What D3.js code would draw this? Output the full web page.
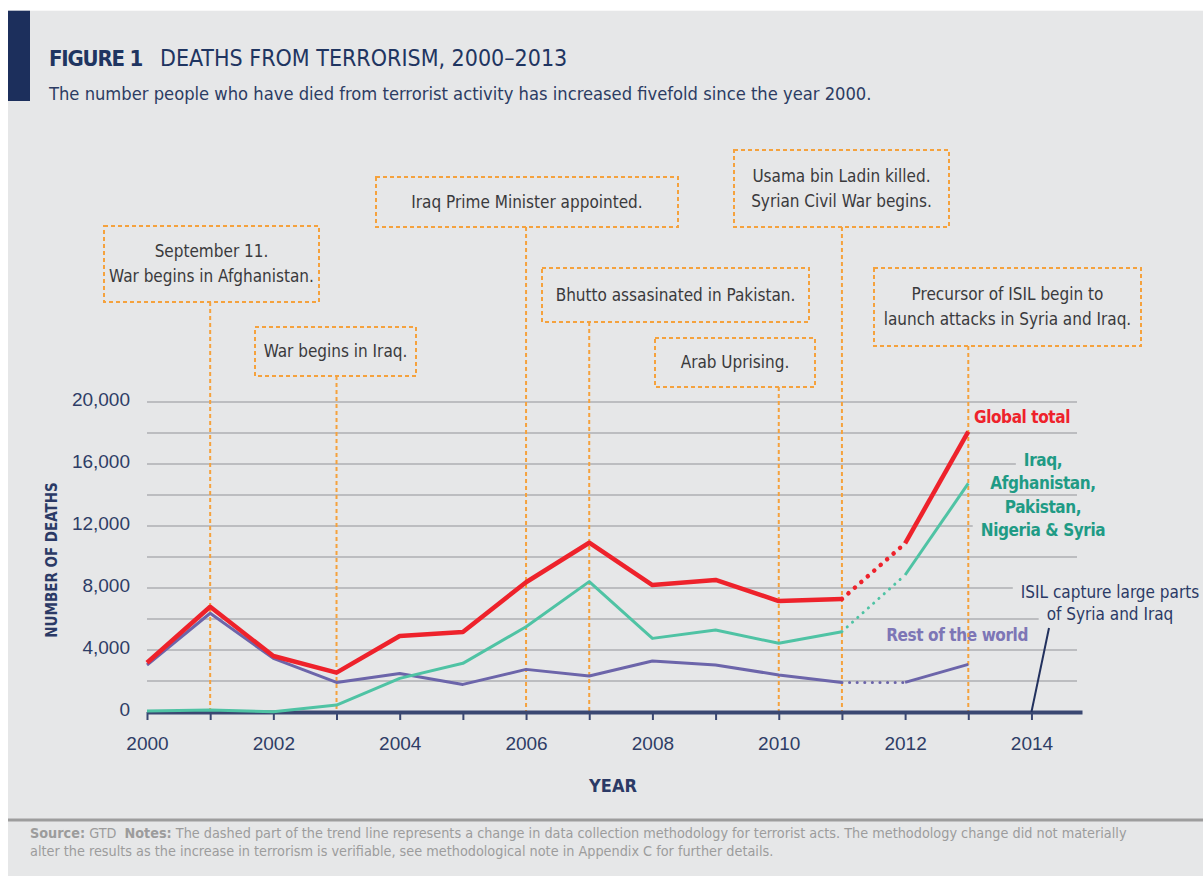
<!DOCTYPE html>
<html>
<head>
<meta charset="utf-8">
<script src="https://cdn.jsdelivr.net/npm/d3@7"></script>
<style>
body { margin: 0; background: #fff; }
svg { display: block; }
text { font-family: "Liberation Sans Narrow", "DejaVu Sans Condensed", "DejaVu Sans", sans-serif; }
</style>
</head>
<body>
<div id="chart"></div>
<script>
// values
var years = [2000, 2001, 2002, 2003, 2004, 2005, 2006, 2007, 2008, 2009, 2010, 2011, 2012, 2013];
var globalTotal = [3180, 6790, 3610, 2540, 4900, 5160, 8370, 10920, 8190, 8520, 7160, 7290, 10880, 18090];
var fiveCountries = [60, 130, 20, 450, 2170, 3140, 5500, 8410, 4750, 5290, 4430, 5180, 8840, 14750];
var restOfWorld = [3030, 6370, 3460, 1910, 2490, 1780, 2750, 2320, 3290, 3030, 2390, 1910, 1910, 3070];
var methodChange = [2011, 2012];

var gridValues = [2000, 4000, 6000, 8000, 10000, 12000, 14000, 16000, 18000, 20000];
var yTickValues = [0, 4000, 8000, 12000, 16000, 20000];
var xTickValues = [2000, 2001, 2002, 2003, 2004, 2005, 2006, 2007, 2008, 2009, 2010, 2011, 2012, 2013, 2014];

var eventYears = [2001, 2003, 2006, 2007, 2010, 2011, 2013];
var eventTexts = [
    ["September 11.", "War begins in Afghanistan."],
    ["War begins in Iraq."],
    ["Iraq Prime Minister appointed."],
    ["Bhutto assasinated in Pakistan."],
    ["Arab Uprising."],
    ["Usama bin Ladin killed.", "Syrian Civil War begins."],
    ["Precursor of ISIL begin to", "launch attacks in Syria and Iraq."]
];
var isilYear = 2014;
var isilText = ["ISIL capture large parts", "of Syria and Iraq"];
var tealLabel = ["Iraq,", "Afghanistan,", "Pakistan,", "Nigeria & Syria"];

// layout of the annotation boxes: x0, y0, x1, y1
var eventBoxes = [
    [104, 226, 319, 302],
    [255, 327, 416, 376],
    [376, 177, 678, 227],
    [542, 268, 809, 322],
    [655, 338, 815, 387],
    [734, 150, 949, 227],
    [874, 268, 1141, 346]
];

var colors = {
    panel: "#e6e7e8",
    navy: "#1c2f5c",
    axis: "#3a4872",
    grid: "#bcbdc0",
    orange: "#f5a23d",
    boxText: "#3a3a3c",
    red: "#ee222b",
    teal: "#4fc3a4",
    tealText: "#1f9b85",
    purple: "#6c65aa",
    purpleText: "#7d76b6",
    footer: "#9c9c9c"
};

var W = 1203, H = 876;
var svg = d3.select("#chart").append("svg").attr("width", W).attr("height", H);

svg.append("rect").attr("x", 8).attr("y", 10.7).attr("width", W - 8).attr("height", H - 10.7).attr("fill", colors.panel);
svg.append("rect").attr("x", 8).attr("y", 10.7).attr("width", 22).attr("height", 90.3).attr("fill", colors.navy);

// title
var title = svg.append("text").attr("x", 49).attr("y", 66).attr("font-size", 23).attr("fill", "#1f3561");
title.append("tspan").attr("font-weight", "bold").attr("font-size", 22).attr("letter-spacing", -1.2).text("FIGURE 1");
title.append("tspan").attr("x", 160).text("DEATHS FROM TERRORISM, 2000\u20132013");
svg.append("text").attr("x", 49).attr("y", 100).attr("font-size", 18.2).attr("fill", "#2c3c63")
    .text("The number people who have died from terrorist activity has increased fivefold since the year 2000.");

var x = d3.scaleLinear().domain([2000, 2014.8]).range([147, 1082]);
var y = d3.scaleLinear().domain([0, 20000]).range([712, 402]);
var gridRight = 1077;

// series labels (drawn first so gridlines can stop short of them)
var labels = svg.append("g").attr("font-weight", "bold").attr("font-size", 17).attr("letter-spacing", -0.4);
labels.append("text").attr("x", 974).attr("y", 417).attr("dy", "0.35em").attr("fill", colors.red).text("Global total");
labels.selectAll(".tl").data(tealLabel).enter()
    .append("text").attr("class", "tl")
    .attr("x", 1043).attr("y", function(d, i) { return 460 + i * 23.4; }).attr("dy", "0.35em")
    .attr("text-anchor", "middle").attr("fill", colors.tealText).text(function(d) { return d; });
labels.append("text").attr("x", 1028).attr("y", 635).attr("dy", "0.35em").attr("text-anchor", "end")
    .attr("fill", colors.purpleText).text("Rest of the world");
labels.selectAll(".isil").data(isilText).enter()
    .append("text").attr("class", "isil")
    .attr("x", 1110).attr("y", function(d, i) { return 592 + i * 22; }).attr("dy", "0.35em")
    .attr("text-anchor", "middle").attr("font-weight", "normal").attr("letter-spacing", 0)
    .attr("fill", "#2b3a66").text(function(d) { return d; });

var boxes = [];
labels.selectAll("text").each(function() { boxes.push(this.getBBox()); });

function gridEnd(v) {
    var yy = y(v), end = gridRight;
    boxes.forEach(function(b) {
        if (yy > b.y - 1 && yy < b.y + b.height + 1) end = Math.min(end, b.x - 8);
    });
    return end;
}

svg.insert("g", "g").attr("class", "grid").selectAll("line").data(gridValues).enter()
    .append("line")
    .attr("x1", x(2000)).attr("x2", function(d) { return gridEnd(d); })
    .attr("y1", function(d) { return y(d); }).attr("y2", function(d) { return y(d); })
    .attr("stroke", colors.grid).attr("stroke-width", 2);

// annotation boxes and connectors
var ann = svg.append("g");
eventYears.forEach(function(yr, i) {
    var b = eventBoxes[i];
    ann.append("line")
        .attr("x1", x(yr)).attr("x2", x(yr)).attr("y1", b[3]).attr("y2", y(0))
        .attr("stroke", colors.orange).attr("stroke-width", 2).attr("stroke-dasharray", "4,3");
    ann.append("rect")
        .attr("x", b[0]).attr("y", b[1]).attr("width", b[2] - b[0]).attr("height", b[3] - b[1])
        .attr("fill", "none").attr("stroke", colors.orange).attr("stroke-width", 2).attr("stroke-dasharray", "4,3");
    var lines = eventTexts[i];
    var cy = (b[1] + b[3]) / 2;
    lines.forEach(function(t, j) {
        ann.append("text")
            .attr("x", (b[0] + b[2]) / 2).attr("y", cy + (j - (lines.length - 1) / 2) * 25)
            .attr("dy", "0.35em").attr("text-anchor", "middle")
            .attr("font-size", 17).attr("fill", colors.boxText).text(t);
    });
});

// axes
var xAxis = d3.axisBottom(x).tickValues(xTickValues).tickSize(8).tickSizeOuter(0).tickPadding(17)
    .tickFormat(function(d) { return d % 2 === 0 ? d : ""; });
var gx = svg.append("g").attr("transform", "translate(0," + y(0) + ")").call(xAxis);
gx.select(".domain").attr("stroke", colors.axis).attr("stroke-width", 4);
gx.selectAll(".tick line").attr("stroke", colors.axis).attr("stroke-width", 2);
gx.selectAll(".tick text").attr("font-size", 19).attr("fill", "#2e3d66")
    .style("font-family", "'Liberation Sans', Arial, sans-serif");

var yAxis = d3.axisLeft(y).tickValues(yTickValues).tickSize(0).tickPadding(17).tickFormat(d3.format(","));
var gy = svg.append("g").attr("transform", "translate(" + x(2000) + ",0)").call(yAxis);
gy.select(".domain").remove();
gy.selectAll(".tick text").attr("font-size", 19).attr("fill", "#2e3d66").attr("dy", "0.18em")
    .style("font-family", "'Liberation Sans', Arial, sans-serif");

svg.append("text").attr("transform", "translate(57,560) rotate(-90)").attr("text-anchor", "middle")
    .attr("font-size", 15).attr("font-weight", "bold").attr("fill", "#2b3a66").text("NUMBER OF DEATHS");
svg.append("text").attr("x", 613).attr("y", 786).attr("dy", "0.35em").attr("text-anchor", "middle")
    .attr("font-size", 18).attr("font-weight", "bold").attr("fill", "#2b3a66").text("YEAR");

// series lines
var line = d3.line().x(function(d) { return x(d[0]); }).y(function(d) { return y(d[1]); });
function drawSeries(values, color, width, dots) {
    var pts = years.map(function(yr, i) { return [yr, values[i]]; });
    var before = pts.filter(function(p) { return p[0] <= methodChange[0]; });
    var gap = pts.filter(function(p) { return p[0] >= methodChange[0] && p[0] <= methodChange[1]; });
    var after = pts.filter(function(p) { return p[0] >= methodChange[1]; });
    [before, after].forEach(function(seg) {
        svg.append("path").attr("d", line(seg)).attr("fill", "none").attr("stroke", color)
            .attr("stroke-width", width).attr("stroke-linejoin", "round");
    });
    svg.append("path").attr("d", line(gap)).attr("fill", "none").attr("stroke", color)
        .attr("stroke-width", width).attr("stroke-linecap", "round").attr("stroke-dasharray", dots);
}
drawSeries(restOfWorld, colors.purple, 3, "0.1,7.5");
drawSeries(fiveCountries, colors.teal, 3, "0.1,7");
drawSeries(globalTotal, colors.red, 4.5, "0.1,8.5");

// ISIL pointer
svg.append("line").attr("x1", x(isilYear)).attr("y1", y(0)).attr("x2", 1049).attr("y2", 628)
    .attr("stroke", "#22315e").attr("stroke-width", 2);

// footer
svg.append("line").attr("x1", 8).attr("x2", W).attr("y1", 820).attr("y2", 820)
    .attr("stroke", "#9d9d9d").attr("stroke-width", 3);
var foot = svg.append("g").attr("font-size", 14.3).attr("fill", colors.footer);
var f1 = foot.append("text").attr("x", 30).attr("y", 838);
f1.append("tspan").attr("font-weight", "bold").text("Source:");
f1.append("tspan").text(" GTD");
f1.append("tspan").attr("dx", 8).attr("font-weight", "bold").text("Notes:");
f1.append("tspan").text(" The dashed part of the trend line represents a change in data collection methodology for terrorist acts. The methodology change did not materially");
foot.append("text").attr("x", 30).attr("y", 856)
    .text("alter the results as the increase in terrorism is verifiable, see methodological note in Appendix C for further details.");
</script>
</body>
</html>
